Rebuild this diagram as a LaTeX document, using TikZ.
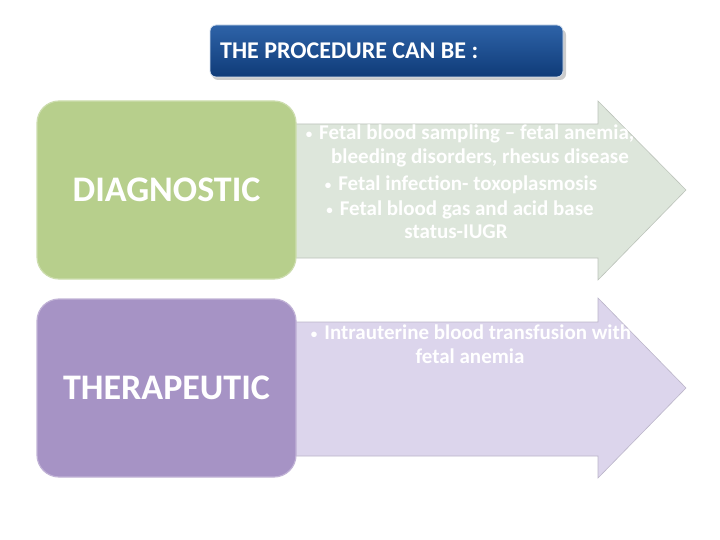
\documentclass[tikz,border=0pt]{standalone}
\usepackage{fontspec}
\setmainfont{Carlito}
\definecolor{titletop}{HTML}{2E63A8}
\definecolor{titlebot}{HTML}{0F3B78}
\definecolor{diagfill}{HTML}{B7CF8C}
\definecolor{diagarrow}{HTML}{DDE6DB}
\definecolor{therfill}{HTML}{A693C5}
\definecolor{therarrow}{HTML}{DCD5EC}
\newcommand{\bul}{{\fontsize{13}{13}\selectfont\raisebox{1pt}{•}}\hspace{7pt}}
\tikzset{
  catbox/.style={rounded corners=22pt, minimum width=259pt, minimum height=178pt, inner sep=0pt,
     font=\fontsize{36}{38}\selectfont\bfseries, text=white},
  bullettext/.style={anchor=base, font=\fontsize{21}{22}\selectfont\bfseries, text=white, inner sep=0pt},
  arrowshape/.style={line width=0.6pt, line join=miter},
}
\begin{document}
\begin{tikzpicture}[x=1pt,y=-1pt]
\useasboundingbox (0,0) rectangle (720,540);
% title
\fill[gray!40, rounded corners=6pt] (212,29) rectangle (566,80);
\node[rounded corners=6pt, minimum width=353pt, minimum height=52pt, inner sep=0pt,
      top color=titletop, bottom color=titlebot, draw=white!80!titletop, line width=0.8pt]
      (title) at (386.5,51) {};
\node[anchor=base west, font=\fontsize{24}{26}\selectfont\bfseries, text=white, inner sep=0pt]
      (titletext) at (220,59) {THE PROCEDURE CAN BE :};
% arrows
\path[arrowshape, fill=diagarrow, draw=diagarrow!85!black]
  (290,124) -- (598,124) -- (598,101) -- (686,190) -- (598,280) -- (598,258) -- (290,258) -- cycle;
\path[arrowshape, fill=therarrow, draw=therarrow!85!black]
  (290,322) -- (598,322) -- (598,298) -- (686,388) -- (598,478) -- (598,456) -- (290,456) -- cycle;
% category boxes
\node[catbox, fill=diagfill, draw=diagfill!70!white, line width=1.2pt] (diag) at (166.5,190) {DIAGNOSTIC};
\node[catbox, fill=therfill, draw=therfill!70!white, line width=1.2pt] (ther) at (166.5,388) {THERAPEUTIC};
% bullet texts
\node[bullettext] (d1) at (470,140) {\bul Fetal blood sampling – fetal anemia,};
\node[bullettext] (d2) at (480,164) {bleeding disorders, rhesus disease};
\node[bullettext] (d3) at (461,191) {\bul Fetal infection- toxoplasmosis};
\node[bullettext] (d4) at (460,215) {\bul Fetal blood gas and acid base};
\node[bullettext] (d5) at (456,239) {status-IUGR};
\node[bullettext] (t1) at (471,339) {\bul Intrauterine blood transfusion with};
\node[bullettext] (t2) at (470,363) {fetal anemia};
\end{tikzpicture}
\end{document}
